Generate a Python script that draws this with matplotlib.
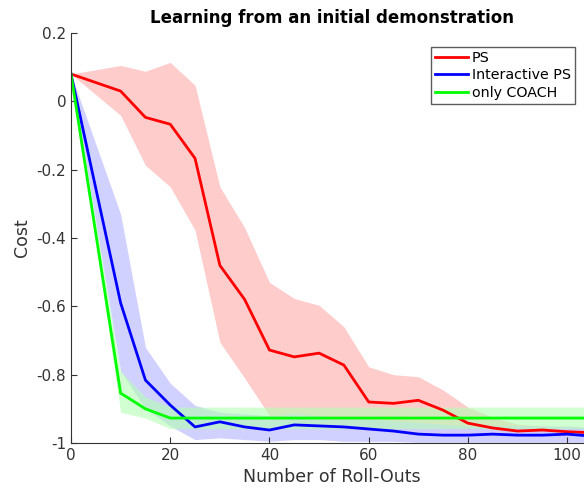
import numpy as np
from matplotlib import pyplot as plt

# roll-out counts
x = [0, 10, 15, 20, 25, 30, 35, 40, 45, 50, 55, 60, 65, 70, 75, 80, 85, 90, 95, 100, 105]

# PS
ps_mean = [0.08, 0.03, -0.047, -0.067, -0.167, -0.48, -0.58, -0.728, -0.748, -0.737, -0.772,
           -0.88, -0.884, -0.875, -0.904, -0.942, -0.956, -0.965, -0.962, -0.967, -0.97]
ps_upper = [0.08, 0.105, 0.088, 0.114, 0.047, -0.25, -0.37, -0.53, -0.577, -0.597, -0.66,
            -0.777, -0.8, -0.806, -0.845, -0.895, -0.925, -0.945, -0.95, -0.955, -0.96]
ps_lower = [0.08, -0.041, -0.187, -0.25, -0.377, -0.705, -0.81, -0.92, -0.95, -0.955, -0.96,
            -0.965, -0.97, -0.975, -0.975, -0.98, -0.98, -0.98, -0.98, -0.98, -0.98]

# Interactive PS
ips_mean = [0.08, -0.59, -0.816, -0.889, -0.953, -0.938, -0.953, -0.962, -0.947, -0.95, -0.953,
            -0.959, -0.965, -0.974, -0.977, -0.977, -0.974, -0.977, -0.977, -0.974, -0.98]
ips_upper = [0.08, -0.33, -0.72, -0.825, -0.89, -0.91, -0.915, -0.92, -0.915, -0.92, -0.925,
             -0.93, -0.935, -0.94, -0.945, -0.95, -0.95, -0.95, -0.95, -0.95, -0.955]
ips_lower = [0.08, -0.79, -0.9, -0.95, -0.99, -0.985, -0.99, -0.995, -0.99, -0.99, -0.995,
             -0.995, -0.995, -0.998, -0.998, -0.998, -0.998, -0.998, -0.998, -0.998, -0.998]

# only COACH
oc_mean = [0.08, -0.854, -0.9, -0.927, -0.927, -0.927, -0.927, -0.927, -0.927, -0.927, -0.927,
           -0.927, -0.927, -0.927, -0.927, -0.927, -0.927, -0.927, -0.927, -0.927, -0.927]
oc_upper = [0.08, -0.79, -0.865, -0.895, -0.895, -0.895, -0.895, -0.895, -0.895, -0.895, -0.895,
            -0.895, -0.895, -0.895, -0.895, -0.895, -0.895, -0.895, -0.895, -0.895, -0.895]
oc_lower = [0.08, -0.91, -0.927, -0.958, -0.958, -0.958, -0.958, -0.958, -0.958, -0.958, -0.958,
            -0.958, -0.958, -0.958, -0.958, -0.958, -0.958, -0.958, -0.958, -0.958, -0.958]

fig = plt.figure(figsize=(5.84, 4.95), dpi=100)
ax = fig.add_axes([71 / 584, 52 / 495, 521 / 584, 410 / 495])

ax.fill_between(x, ps_lower, ps_upper, color=(1, 0.8, 0.8), lw=0)
ax.fill_between(x, ips_lower, ips_upper, color=(0.8, 0.8, 1), lw=0, alpha=0.9)
ax.fill_between(x, oc_lower, oc_upper, color=(0.7, 1, 0.7), lw=0, alpha=0.6)

ax.plot(x, ps_mean, color='#ff0000', lw=2, label='PS')
ax.plot(x, ips_mean, color='#0000ff', lw=2, label='Interactive PS')
ax.plot(x, oc_mean, color='#00ff00', lw=2, label='only COACH')

ax.set_xlim(0, 105)
ax.set_ylim(-1, 0.2)
ax.set_xticks([0, 20, 40, 60, 80, 100])
ax.set_yticks([-1, -0.8, -0.6, -0.4, -0.2, 0, 0.2])
ax.set_yticklabels(['-1', '-0.8', '-0.6', '-0.4', '-0.2', '0', '0.2'])
ax.tick_params(direction='in', labelsize=11, colors='#333333', length=4)
for s in ['top', 'right']:
    ax.spines[s].set_visible(False)
for s in ['left', 'bottom']:
    ax.spines[s].set_color('#333333')

ax.set_xlabel('Number of Roll-Outs', fontsize=12.5, color='#333333')
ax.set_ylabel('Cost', fontsize=12.5, color='#333333')
ax.set_title('Learning from an initial demonstration', fontsize=12, fontweight='bold', pad=7)

leg = ax.legend(loc='upper right', bbox_to_anchor=(0.968, 0.967), fontsize=10.3, fancybox=False,
                handlelength=2.3, borderpad=0.3, labelspacing=0.25, handletextpad=0.3,
                borderaxespad=0)
leg.get_frame().set_edgecolor('#333333')
leg.get_frame().set_linewidth(1)

plt.savefig('out.png', dpi=100)
